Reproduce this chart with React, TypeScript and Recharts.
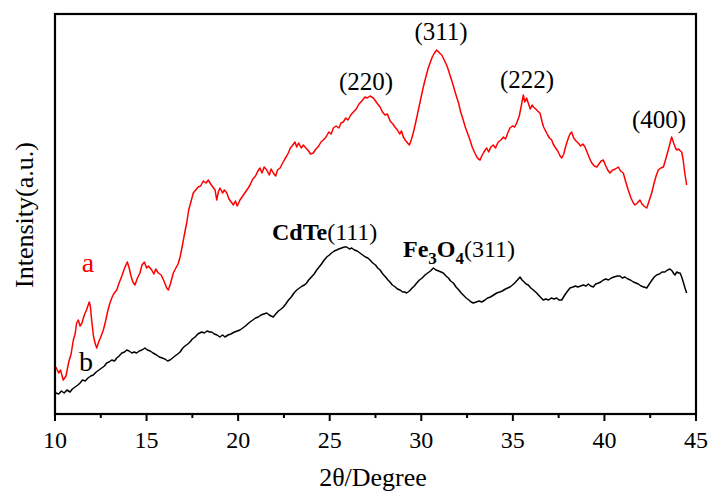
import React from 'react';
import { LineChart, Line, XAxis, YAxis } from 'recharts';

// curve a (red) - 2theta / intensity (a.u.)
const redTheta = [10.05, 10.2, 10.3, 10.45, 10.6, 10.75, 10.88, 11.0, 11.1, 11.18, 11.27, 11.37, 11.47, 11.6, 11.72, 11.87, 11.93, 12.0, 12.1, 12.2, 12.28, 12.38, 12.5, 12.64, 12.75, 12.88, 13.0, 13.1, 13.2, 13.37, 13.5, 13.65, 13.8, 13.95, 14.05, 14.15, 14.25, 14.37, 14.5, 14.64, 14.75, 14.88, 15.0, 15.1, 15.28, 15.4, 15.5, 15.64, 15.8, 15.95, 16.1, 16.19, 16.3, 16.46, 16.6, 16.72, 16.83, 16.95, 17.05, 17.19, 17.3, 17.45, 17.55, 17.68, 17.82, 17.95, 18.1, 18.25, 18.37, 18.5, 18.62, 18.74, 18.83, 18.92, 19.01, 19.15, 19.25, 19.38, 19.5, 19.62, 19.74, 19.85, 19.95, 20.1, 20.25, 20.4, 20.55, 20.65, 20.8, 20.95, 21.05, 21.19, 21.3, 21.42, 21.56, 21.7, 21.8, 21.92, 22.05, 22.15, 22.29, 22.4, 22.55, 22.65, 22.74, 22.85, 22.95, 23.1, 23.2, 23.3, 23.45, 23.56, 23.7, 23.85, 23.95, 24.1, 24.25, 24.4, 24.52, 24.65, 24.8, 24.95, 25.08, 25.2, 25.35, 25.5, 25.62, 25.74, 25.88, 26.0, 26.15, 26.29, 26.45, 26.6, 26.75, 26.93, 27.05, 27.2, 27.38, 27.5, 27.62, 27.75, 27.88, 28.02, 28.15, 28.3, 28.45, 28.56, 28.7, 28.82, 28.92, 29.02, 29.12, 29.25, 29.35, 29.45, 29.56, 29.7, 29.84, 29.98, 30.11, 30.25, 30.38, 30.48, 30.6, 30.72, 30.84, 30.95, 31.05, 31.12, 31.25, 31.38, 31.48, 31.6, 31.72, 31.83, 31.93, 32.05, 32.15, 32.29, 32.4, 32.52, 32.66, 32.78, 32.9, 33.03, 33.12, 33.21, 33.3, 33.42, 33.57, 33.68, 33.8, 33.93, 34.05, 34.2, 34.35, 34.48, 34.6, 34.72, 34.84, 34.98, 35.1, 35.21, 35.35, 35.47, 35.57, 35.65, 35.75, 35.84, 35.95, 36.05, 36.12, 36.25, 36.35, 36.48, 36.6, 36.68, 36.76, 36.9, 37.0, 37.12, 37.2, 37.3, 37.45, 37.58, 37.67, 37.78, 37.86, 37.94, 38.05, 38.12, 38.21, 38.32, 38.45, 38.57, 38.7, 38.82, 38.94, 39.05, 39.18, 39.31, 39.45, 39.58, 39.7, 39.82, 39.94, 40.05, 40.18, 40.3, 40.45, 40.6, 40.76, 40.88, 41.03, 41.15, 41.3, 41.45, 41.58, 41.67, 41.8, 41.94, 42.05, 42.15, 42.31, 42.42, 42.58, 42.7, 42.82, 42.94, 43.08, 43.22, 43.35, 43.5, 43.6, 43.67, 43.78, 43.88, 43.95, 44.05, 44.15, 44.22, 44.3, 44.38, 44.49];
const redI = [47, 41, 44, 34, 38, 52, 60, 74, 80, 91, 94, 88, 91, 99, 104, 112, 108, 94, 78, 70, 66, 72, 77, 84, 92, 103, 111, 116, 120, 124, 131, 138, 146, 152, 146, 138, 132, 129, 136, 141, 149, 152, 146, 148, 144, 140, 145, 141, 139, 133, 126, 124, 130, 141, 146, 150, 157, 168, 178, 191, 204, 214, 221, 224, 227, 228, 233, 231, 234, 230, 227, 224, 214, 222, 226, 221, 224, 221, 215, 212, 209, 213, 208, 214, 218, 222, 226, 229, 235, 238, 242, 246, 241, 247, 244, 239, 245, 241, 238, 244, 246, 250, 255, 258, 261, 266, 268, 272, 267, 271, 266, 269, 266, 263, 260, 261, 265, 268, 272, 274, 277, 282, 280, 286, 288, 286, 291, 292, 296, 294, 299, 302, 305, 310, 313, 317, 316, 318, 316, 313, 310, 307, 302, 299, 300, 293, 290, 287, 284, 280, 283, 277, 274, 271, 269, 274, 281, 292, 304, 316, 327, 337, 346, 351, 357, 361, 364, 362, 360, 359, 354, 349, 344, 337, 330, 323, 317, 310, 302, 294, 287, 281, 274, 267, 262, 257, 255, 254, 258, 262, 266, 262, 267, 269, 266, 272, 274, 277, 275, 281, 286, 288, 287, 291, 298, 309, 319, 312, 316, 311, 305, 309, 307, 305, 303, 301, 292, 287, 284, 279, 276, 274, 270, 267, 263, 258, 256, 260, 266, 271, 277, 280, 282, 276, 273, 271, 268, 270, 267, 262, 256, 251, 248, 247, 250, 253, 254, 249, 244, 241, 244, 245, 247, 243, 241, 233, 224, 216, 211, 209, 211, 214, 210, 208, 206, 212, 221, 230, 238, 244, 246, 247, 255, 265, 272, 277, 271, 266, 264, 265, 263, 262, 254, 242, 229];

// curve b (black)
const blackTheta = [10.05, 10.2, 10.35, 10.5, 10.65, 10.82, 10.95, 11.1, 11.25, 11.37, 11.5, 11.65, 11.8, 11.95, 12.09, 12.25, 12.4, 12.55, 12.7, 12.82, 12.95, 13.1, 13.25, 13.37, 13.5, 13.65, 13.8, 13.92, 14.05, 14.2, 14.32, 14.46, 14.6, 14.75, 14.91, 15.05, 15.2, 15.35, 15.55, 15.7, 15.85, 16.0, 16.15, 16.28, 16.42, 16.55, 16.7, 16.83, 16.98, 17.1, 17.25, 17.37, 17.5, 17.65, 17.8, 18.01, 18.15, 18.3, 18.45, 18.56, 18.7, 18.85, 19.0, 19.15, 19.28, 19.45, 19.6, 19.8, 19.95, 20.1, 20.25, 20.4, 20.52, 20.65, 20.8, 20.95, 21.1, 21.25, 21.4, 21.56, 21.7, 21.8, 21.92, 22.05, 22.2, 22.35, 22.47, 22.6, 22.75, 22.9, 23.05, 23.2, 23.35, 23.5, 23.62, 23.74, 23.85, 24.0, 24.15, 24.29, 24.42, 24.55, 24.7, 24.84, 24.98, 25.1, 25.25, 25.38, 25.5, 25.65, 25.8, 25.93, 26.08, 26.2, 26.35, 26.5, 26.65, 26.8, 26.95, 27.08, 27.2, 27.35, 27.5, 27.62, 27.75, 27.9, 28.05, 28.18, 28.29, 28.42, 28.58, 28.7, 28.84, 28.98, 29.1, 29.2, 29.35, 29.5, 29.62, 29.75, 29.9, 30.05, 30.2, 30.35, 30.5, 30.66, 30.8, 30.95, 31.08, 31.2, 31.35, 31.48, 31.6, 31.75, 31.9, 32.05, 32.18, 32.29, 32.45, 32.6, 32.72, 32.84, 33.0, 33.15, 33.3, 33.48, 33.62, 33.78, 33.95, 34.12, 34.28, 34.42, 34.6, 34.72, 34.84, 34.98, 35.1, 35.25, 35.39, 35.5, 35.62, 35.72, 35.84, 35.98, 36.12, 36.3, 36.45, 36.55, 36.66, 36.8, 36.95, 37.1, 37.25, 37.39, 37.52, 37.67, 37.8, 37.95, 38.12, 38.28, 38.42, 38.55, 38.7, 38.85, 39.0, 39.12, 39.25, 39.39, 39.52, 39.68, 39.8, 39.94, 40.08, 40.22, 40.38, 40.52, 40.7, 40.85, 40.98, 41.12, 41.28, 41.42, 41.58, 41.72, 41.85, 42.0, 42.15, 42.31, 42.45, 42.6, 42.72, 42.85, 43.0, 43.15, 43.3, 43.45, 43.58, 43.7, 43.8, 43.85, 43.95, 44.05, 44.13, 44.22, 44.32, 44.4, 44.49];
const blackI = [21, 20, 23, 21, 24, 22, 25, 27, 29, 31, 34, 33, 36, 38, 39, 42, 44, 46, 48, 51, 52, 54, 53, 56, 58, 61, 62, 64, 63, 61, 62, 61, 63, 64, 66, 64, 63, 61, 59, 57, 56, 55, 53, 54, 56, 58, 60, 62, 66, 68, 70, 72, 75, 77, 80, 82, 81, 83, 82, 82, 80, 79, 77, 79, 77, 79, 80, 82, 83, 84, 86, 88, 90, 92, 94, 96, 97, 99, 100, 101, 99, 98, 97, 100, 103, 105, 107, 110, 114, 117, 121, 124, 126, 128, 129, 131, 134, 137, 140, 144, 147, 150, 154, 157, 159, 161, 163, 164, 165, 166, 167, 167, 165, 166, 164, 163, 161, 159, 157, 156, 154, 151, 149, 146, 144, 140, 137, 134, 132, 129, 127, 125, 124, 122, 122, 121, 123, 126, 128, 131, 134, 136, 139, 141, 143, 146, 144, 143, 142, 141, 138, 136, 133, 131, 127, 124, 121, 119, 116, 114, 112, 111, 112, 113, 112, 114, 116, 117, 119, 121, 122, 123, 125, 126, 127, 129, 131, 134, 137, 134, 132, 130, 129, 126, 124, 121, 118, 116, 114, 115, 114, 116, 115, 116, 114, 114, 118, 122, 126, 127, 128, 127, 128, 129, 128, 130, 128, 127, 130, 131, 132, 134, 135, 134, 136, 137, 138, 138, 136, 137, 135, 134, 132, 131, 130, 128, 127, 126, 130, 134, 137, 139, 140, 142, 142, 144, 145, 143, 140, 139, 142, 141, 141, 137, 131, 126, 121];

const xTicks = [10, 12.5, 15, 17.5, 20, 22.5, 25, 27.5, 30, 32.5, 35, 37.5, 40, 42.5, 45];

const redData = redTheta.map((x, i) => ({ x, y: redI[i] }));
const blackData = blackTheta.map((x, i) => ({ x, y: blackI[i] }));

const W = 709;
const H = 491;
const M = { top: 14, right: 13, left: 55, bottom: 47 };
const X_AXIS_H = 30;
const FONT = "'Liberation Serif', 'Times New Roman', serif";

const XTick = (props: any) => {
    const { x, y, payload } = props;
    const major = payload.value % 5 === 0;
    return (
        <g>
            <line x1={x} x2={x} y1={y} y2={y + (major ? 7 : 4)} stroke="#000" strokeWidth={2} />
            {major && (
                <text x={x} y={y + 34} textAnchor="middle" fontSize={24} style={{ fontFamily: FONT }} fill="#000">
                    {payload.value}
                </text>
            )}
        </g>
    );
};

export default function App() {
    // plot box, same numbers the chart margins use
    const px = M.left;
    const py = M.top;
    const pw = W - M.left - M.right;
    const ph = H - M.top - M.bottom - X_AXIS_H;
    return (
        <div style={{ position: 'absolute', left: 0, top: 0, width: W, height: H, background: '#fff', fontFamily: FONT }}>
            <LineChart width={W} height={H} data={redData} margin={M}>
                <XAxis
                    type="number"
                    dataKey="x"
                    domain={[10, 45]}
                    ticks={xTicks}
                    interval={0}
                    height={X_AXIS_H}
                    tickSize={0}
                    tickMargin={0}
                    tick={<XTick />}
                    axisLine={false}
                    allowDataOverflow
                />
                <YAxis hide domain={[0, 400]} allowDataOverflow />
                <Line data={redData} dataKey="y" stroke="#ff0000" strokeWidth={1.5} strokeLinejoin="round" dot={false} isAnimationActive={false} />
                <Line data={blackData} dataKey="y" stroke="#000" strokeWidth={1.5} strokeLinejoin="round" dot={false} isAnimationActive={false} />
            </LineChart>
            <svg width={W} height={H} style={{ position: 'absolute', left: 0, top: 0, pointerEvents: 'none', fontFamily: FONT }}>
                <rect x={px} y={py} width={pw} height={ph} fill="none" stroke="#000" strokeWidth={2.2} />
                <text x={373} y={486} textAnchor="middle" fontSize={26}>2θ/Degree</text>
                <text transform="translate(33,215) rotate(-90)" textAnchor="middle" fontSize={26}>Intensity(a.u.)</text>
                <text x={366} y={90} textAnchor="middle" fontSize={25}>(220)</text>
                <text x={441} y={40} textAnchor="middle" fontSize={25}>(311)</text>
                <text x={527} y={88} textAnchor="middle" fontSize={25}>(222)</text>
                <text x={659} y={128} textAnchor="middle" fontSize={25}>(400)</text>
                <text x={88} y={272} textAnchor="middle" fontSize={28} fill="#ff0000">a</text>
                <text x={86} y={371} textAnchor="middle" fontSize={28}>b</text>
                <text x={272} y={240} fontSize={24}>
                    <tspan fontWeight="bold">CdTe</tspan>
                    <tspan>(111)</tspan>
                </text>
                <text x={403} y={257} fontSize={24}>
                    <tspan fontWeight="bold">Fe</tspan>
                    <tspan fontWeight="bold" fontSize={17} dy={7}>3</tspan>
                    <tspan fontWeight="bold" dy={-7}>O</tspan>
                    <tspan fontWeight="bold" fontSize={17} dy={7}>4</tspan>
                    <tspan dy={-7}>(311)</tspan>
                </text>
            </svg>
        </div>
    );
}
